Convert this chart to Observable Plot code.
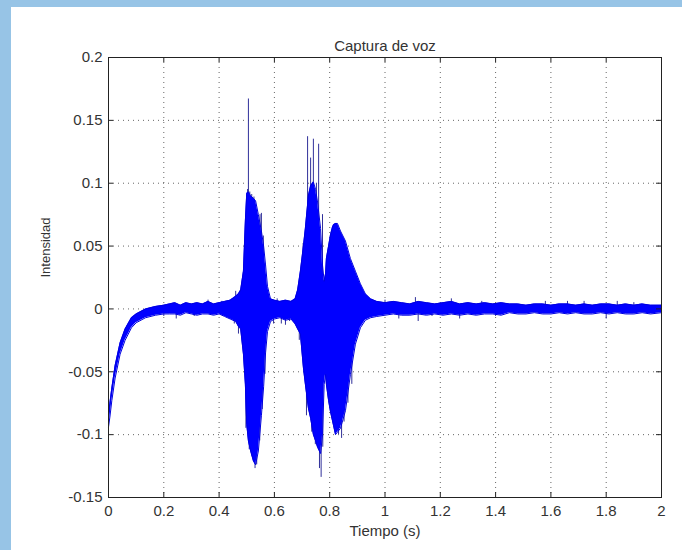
<!DOCTYPE html>
<html>
<head>
<meta charset="utf-8">
<script src="https://cdn.jsdelivr.net/npm/d3@7"></script>
<script src="https://cdn.jsdelivr.net/npm/@observablehq/plot@0.6"></script>
<style>
  html, body { margin: 0; padding: 0; }
  body { width: 682px; height: 550px; background: #97c4e6; position: relative; overflow: hidden; font-family: "Liberation Sans", Arial, sans-serif; }
  #panel { position: absolute; left: 11px; top: 7px; right: 0; bottom: 0; background: #ffffff; }
  #chart { position: absolute; left: 0; top: 0; }
</style>
</head>
<body>
<div id="panel"></div>
<div id="chart"></div>
<script>
// ---- Data ----
const titleText = "Captura de voz";
const xLabelText = "Tiempo (s)";
const yLabelText = "Intensidad";

const xTicks = [0, 0.2, 0.4, 0.6, 0.8, 1, 1.2, 1.4, 1.6, 1.8, 2];
const xTickLabels = ["0", "0.2", "0.4", "0.6", "0.8", "1", "1.2", "1.4", "1.6", "1.8", "2"];
const yTicks = [-0.15, -0.1, -0.05, 0, 0.05, 0.1, 0.15, 0.2];
const yTickLabels = ["-0.15", "-0.1", "-0.05", "0", "0.05", "0.1", "0.15", "0.2"];

// Envelope of the signal (time, upper, lower)
const envT = [0.000, 0.005, 0.012, 0.024, 0.042, 0.060, 0.083, 0.100, 0.134, 0.170, 0.200,
  0.22, 0.24, 0.26, 0.28, 0.30, 0.32, 0.34, 0.36, 0.38, 0.40, 0.42, 0.44, 0.46, 0.470, 0.478,
  0.488, 0.495, 0.500, 0.506, 0.514, 0.524, 0.532, 0.542, 0.553, 0.561, 0.568, 0.575, 0.586,
  0.60, 0.62, 0.64, 0.66, 0.675,
  0.684, 0.694, 0.705, 0.712, 0.723, 0.731, 0.741, 0.749, 0.756, 0.767, 0.774, 0.780, 0.785,
  0.788, 0.796, 0.803, 0.810, 0.814, 0.821, 0.828, 0.839, 0.857, 0.875, 0.893, 0.911, 0.929, 0.948, 0.97,
  1.00, 1.03, 1.06, 1.09, 1.12, 1.15, 1.18, 1.21, 1.24, 1.27, 1.30, 1.33, 1.36, 1.39, 1.42, 1.45, 1.48,
  1.51, 1.54, 1.57, 1.60, 1.63, 1.66, 1.69, 1.72, 1.75, 1.78, 1.81, 1.84, 1.87, 1.90, 1.93, 1.96, 2.00];
const envHi = [-0.084, -0.075, -0.063, -0.045, -0.027, -0.016, -0.007, -0.004, 0.000, 0.002, 0.003,
  0.004, 0.005, 0.003, 0.005, 0.004, 0.005, 0.004, 0.006, 0.004, 0.005, 0.006, 0.007, 0.010, 0.012, 0.015,
  0.030, 0.070, 0.092, 0.093, 0.090, 0.088, 0.086, 0.075, 0.062, 0.050, 0.035, 0.018, 0.008,
  0.007, 0.006, 0.007, 0.006, 0.008,
  0.015, 0.030, 0.050, 0.064, 0.090, 0.098, 0.101, 0.095, 0.085, 0.064, 0.035, 0.022, 0.028,
  0.040, 0.050, 0.059, 0.065, 0.067, 0.068, 0.068, 0.062, 0.054, 0.040, 0.030, 0.020, 0.012, 0.008, 0.006,
  0.005, 0.006, 0.005, 0.004, 0.006, 0.005, 0.004, 0.005, 0.006, 0.004, 0.005, 0.004, 0.005, 0.004, 0.005, 0.004, 0.004,
  0.003, 0.004, 0.004, 0.003, 0.004, 0.004, 0.003, 0.004, 0.003, 0.004, 0.004, 0.003, 0.004, 0.003, 0.004, 0.003, 0.003];
const envLo = [-0.094, -0.086, -0.073, -0.055, -0.036, -0.025, -0.015, -0.011, -0.007, -0.005, -0.004,
  -0.004, -0.004, -0.005, -0.003, -0.004, -0.005, -0.004, -0.004, -0.005, -0.004, -0.006, -0.008, -0.010, -0.014, -0.016,
  -0.036, -0.060, -0.092, -0.105, -0.113, -0.121, -0.124, -0.113, -0.085, -0.062, -0.035, -0.018, -0.010,
  -0.008, -0.007, -0.009, -0.008, -0.012,
  -0.016, -0.020, -0.047, -0.060, -0.079, -0.087, -0.100, -0.105, -0.110, -0.115, -0.100, -0.060, -0.052,
  -0.060, -0.073, -0.082, -0.089, -0.093, -0.100, -0.098, -0.095, -0.081, -0.052, -0.028, -0.015, -0.009, -0.007, -0.006,
  -0.005, -0.004, -0.005, -0.005, -0.004, -0.005, -0.004, -0.005, -0.004, -0.005, -0.004, -0.005, -0.004, -0.004, -0.005, -0.003, -0.004,
  -0.004, -0.003, -0.004, -0.004, -0.003, -0.004, -0.003, -0.004, -0.004, -0.003, -0.004, -0.003, -0.004, -0.004, -0.003, -0.004, -0.003];

// Individual spikes (time, peak value)
const spikeT = [0.506, 0.503, 0.511, 0.518, 0.526, 0.548, 0.553, 0.560,
  0.497, 0.509, 0.519, 0.530, 0.536, 0.547, 0.556, 0.566,
  0.455, 0.460, 0.470, 0.597, 0.610, 0.625, 0.640, 0.655, 0.690,
  0.720, 0.741, 0.760, 0.731, 0.752, 0.704, 0.774,
  0.769, 0.763, 0.735, 0.748, 0.716, 0.775,
  0.843, 0.832, 0.852, 0.866, 0.880,
  0.200, 0.245, 0.310, 0.360, 0.410,
  1.00, 1.05, 1.11, 1.12, 1.17, 1.24, 1.27, 1.35, 1.40, 1.58, 1.66, 1.72, 1.80, 1.84, 1.90];
const spikeV = [0.167, 0.095, 0.093, 0.091, 0.089, 0.075, 0.076, 0.058,
  -0.095, -0.112, -0.117, -0.127, -0.124, -0.105, -0.080, -0.052,
  -0.012, 0.014, -0.020, -0.012, 0.008, -0.012, -0.013, -0.010, -0.025,
  0.137, 0.135, 0.131, 0.120, 0.100, 0.052, 0.075,
  -0.134, -0.127, -0.098, -0.108, -0.085, -0.110,
  -0.103, -0.100, -0.090, -0.075, -0.060,
  -0.006, -0.008, -0.006, 0.007, 0.006,
  0.007, -0.008, 0.009, -0.010, -0.006, 0.008, -0.008, 0.006, -0.006, 0.006, 0.006, 0.006, -0.008, 0.006, 0.005];

// ---- Build tables ----
const env = envT.map((t, i) => ({t, hi: envHi[i], lo: envLo[i]}));
const spikes = spikeT.map((t, i) => ({t, v: spikeV[i]}));
const xLab = new Map(xTicks.map((d, i) => [d, xTickLabels[i]]));
const yLab = new Map(yTicks.map((d, i) => [d, yTickLabels[i]]));

const W = 682, H = 550;
const mL = 108, mR = 21, mT = 57, mB = 53;
const pw = W - mL - mR, ph = H - mT - mB;
const tickLen = 5;
const ink = "#222";
const fontFam = "'Liberation Sans', Arial, Helvetica, sans-serif";

const chart = Plot.plot({
  width: W,
  height: H,
  marginLeft: mL,
  marginRight: mR,
  marginTop: mT,
  marginBottom: mB,
  style: {background: "transparent", color: "#333", fontFamily: fontFam, fontSize: "15px"},
  x: {domain: [0, 2]},
  y: {domain: [-0.15, 0.2]},
  marks: [
    // dotted grid
    Plot.ruleX(xTicks, {x: d => d, stroke: "#333", strokeOpacity: 0.75, strokeDasharray: "1,4"}),
    Plot.ruleY(yTicks, {y: d => d, stroke: "#333", strokeOpacity: 0.75, strokeDasharray: "1,4"}),
    // signal: spikes underneath, solid envelope on top
    Plot.ruleX(spikes, {x: "t", y1: 0, y2: "v", stroke: "#30309a", strokeWidth: 1}),
    Plot.areaY(env, {x: "t", y1: "lo", y2: "hi", fill: "#0000ff"}),
    Plot.line(env, {x: "t", y: "hi", stroke: "#0000e0", strokeWidth: 1}),
    Plot.line(env, {x: "t", y: "lo", stroke: "#0000e0", strokeWidth: 1}),
    // axes (labels only, ticks drawn inward below)
    Plot.axisX(xTicks, {anchor: "bottom", tickSize: 0, tickPadding: 8, tickFormat: d => xLab.get(d), fontSize: 15, label: null}),
    Plot.axisY(yTicks, {anchor: "left", tickSize: 0, tickPadding: 6, tickFormat: d => yLab.get(d), fontSize: 15, label: null}),
    // inward ticks on all four sides
    Plot.tickY(yTicks, {y: d => d, insetRight: pw - tickLen, stroke: ink}),
    Plot.tickY(yTicks, {y: d => d, insetLeft: pw - tickLen, stroke: ink}),
    Plot.tickX(xTicks, {x: d => d, insetTop: ph - tickLen, stroke: ink}),
    Plot.tickX(xTicks, {x: d => d, insetBottom: ph - tickLen, stroke: ink}),
    Plot.frame({stroke: ink, strokeWidth: 1}),
    // title and axis titles
    Plot.text([titleText], {frameAnchor: "top", dy: -17, fontSize: 15, fill: "#333"}),
    Plot.text([xLabelText], {frameAnchor: "bottom", dy: 38, fontSize: 15, fill: "#333"}),
    Plot.text([yLabelText], {frameAnchor: "left", dx: -63, rotate: -90, fontSize: 13, fill: "#333"})
  ]
});
document.getElementById("chart").appendChild(chart);
</script>
</body>
</html>
